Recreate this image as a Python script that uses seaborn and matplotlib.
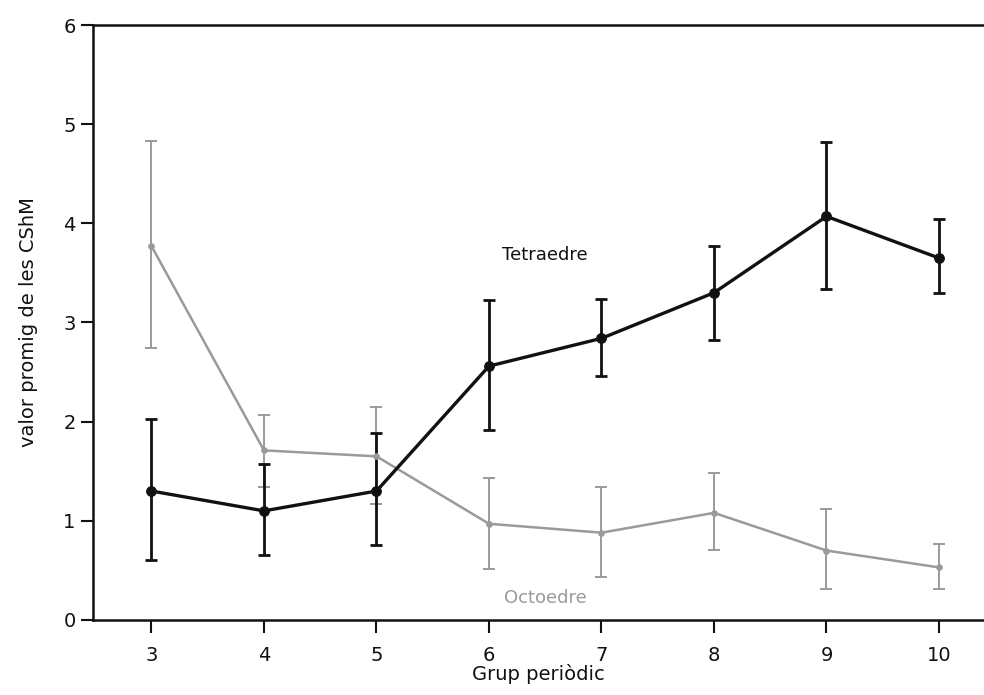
import numpy as np
import pandas as pd
import matplotlib
matplotlib.use("Agg")
import matplotlib.pyplot as plt
import seaborn as sns

# Periodic group of the metal
grups = [3, 4, 5, 6, 7, 8, 9, 10]

# Mean CShM values with lower / upper error bar ends
tetra_mean = [1.30, 1.10, 1.30, 2.56, 2.84, 3.30, 4.07, 3.65]
tetra_low = [0.60, 0.65, 0.76, 1.92, 2.46, 2.82, 3.34, 3.30]
tetra_high = [2.03, 1.57, 1.89, 3.23, 3.24, 3.77, 4.82, 4.04]

octa_mean = [3.77, 1.71, 1.65, 0.97, 0.88, 1.08, 0.70, 0.53]
octa_low = [2.74, 1.34, 1.17, 0.51, 0.43, 0.71, 0.31, 0.31]
octa_high = [4.83, 2.07, 2.15, 1.43, 1.34, 1.48, 1.12, 0.77]

y_ticks = [0, 1, 2, 3, 4, 5, 6]

sns.set_theme(style="ticks")
plt.rcParams["font.family"] = ["DejaVu Sans"]

df = pd.DataFrame({
    "grup": grups * 2,
    "valor": tetra_mean + octa_mean,
    "poliedre": ["Tetraedre"] * len(grups) + ["Octoedre"] * len(grups),
})

fig = plt.figure(figsize=(9.84, 6.95), dpi=100)
ax = fig.add_axes([0.0945, 0.108, 0.9055, 0.856])

black = "#111111"
grey = "#9a9a9a"

# Error bars
for mean, low, high, col, lw, z in [
    (octa_mean, octa_low, octa_high, grey, 1.4, 2),
    (tetra_mean, tetra_low, tetra_high, black, 2.0, 3),
]:
    m = np.array(mean)
    yerr = np.vstack([m - np.array(low), np.array(high) - m])
    ax.errorbar(grups, m, yerr=yerr, fmt="none", ecolor=col,
                elinewidth=lw, capsize=4.5, capthick=lw, zorder=z)

sns.lineplot(data=df[df.poliedre == "Octoedre"], x="grup", y="valor",
             color=grey, linewidth=1.8, marker="o", markersize=4,
             markeredgecolor=grey, ax=ax, zorder=4)
sns.lineplot(data=df[df.poliedre == "Tetraedre"], x="grup", y="valor",
             color=black, linewidth=2.4, marker="o", markersize=7,
             markeredgecolor=black, ax=ax, zorder=5)

ax.text(6.5, 3.68, "Tetraedre", color=black, fontsize=13,
        ha="center", va="center")
ax.text(6.5, 0.22, "Octoedre", color=grey, fontsize=13,
        ha="center", va="center")

ax.set_xlim(2.48, 10.40)
ax.set_ylim(0, 6)
ax.set_xticks(grups)
ax.set_yticks(y_ticks)
ax.tick_params(axis="both", direction="out", length=9, width=1.5,
               labelsize=14, color=black, labelcolor=black)
ax.tick_params(axis="x", pad=10)
ax.set_xlabel("Grup periòdic", fontsize=14, color=black, labelpad=-1)
ax.set_ylabel("valor promig de les CShM", fontsize=14, color=black,
              labelpad=18)

for side in ["left", "bottom", "top"]:
    ax.spines[side].set_color(black)
    ax.spines[side].set_linewidth(1.8)
ax.spines["right"].set_visible(False)

fig.savefig("out.png", dpi=100, facecolor="white")
